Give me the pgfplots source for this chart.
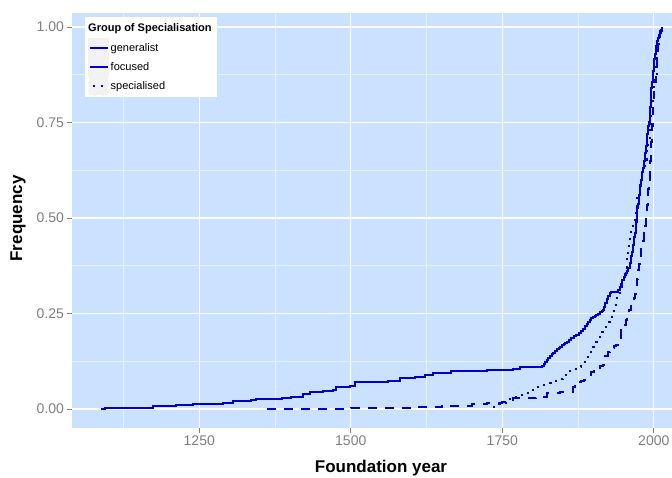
\documentclass[border=0pt]{standalone}
\usepackage{pgfplots}
\usepackage{pgfplotstable}
\pgfplotsset{compat=1.18}
\usepackage{fontspec}
\setmainfont{Liberation Sans}
\definecolor{bg}{HTML}{CAE1FF}
\definecolor{ln}{HTML}{0000CD}
\definecolor{tk}{HTML}{7F7F7F}
\definecolor{keybg}{HTML}{F2F2F2}

\pgfplotstableread{
year val
1088 0.000
1094 0.003
1174 0.007
1212 0.010
1240 0.014
1289 0.017
1306 0.020
1336 0.023
1344 0.025
1361 0.027
1386 0.030
1402 0.032
1421 0.038
1432 0.045
1454 0.047
1471 0.051
1476 0.057
1498 0.060
1507 0.070
1562 0.073
1581 0.080
1606 0.085
1622 0.088
1636 0.094
1666 0.100
1724 0.103
1768 0.105
1780 0.109
1815 0.113
1818 0.118
1821 0.124
1823 0.128
1826 0.134
1829 0.140
1832 0.144
1834 0.146
1837 0.151
1840 0.156
1843 0.160
1845 0.163
1848 0.167
1851 0.171
1854 0.174
1856 0.176
1860 0.181
1864 0.186
1868 0.190
1872 0.194
1876 0.199
1880 0.204
1883 0.209
1886 0.216
1889 0.222
1892 0.229
1894 0.233
1897 0.238
1900 0.241
1903 0.244
1905 0.246
1908 0.249
1911 0.253
1914 0.256
1916 0.259
1918 0.268
1920 0.278
1922 0.288
1924 0.296
1927 0.303
1930 0.305
1934 0.306
1938 0.307
1941 0.312
1944 0.320
1946 0.328
1948 0.337
1950 0.345
1952 0.350
1954 0.355
1956 0.362
1958 0.370
1960 0.381
1962 0.392
1963 0.400
1964 0.410
1965 0.420
1966 0.430
1967 0.440
1968 0.450
1969 0.460
1970 0.475
1971 0.490
1972 0.510
1973 0.525
1974 0.537
1975 0.550
1976 0.560
1977 0.570
1978 0.585
1979 0.600
1980 0.610
1981 0.620
1982 0.630
1983 0.640
1984 0.650
1985 0.660
1986 0.670
1987 0.688
1988 0.705
1989 0.720
1990 0.730
1991 0.740
1992 0.750
1993 0.770
1994 0.790
1995 0.815
1996 0.840
1997 0.855
1998 0.870
1999 0.885
2000 0.900
2001 0.915
2002 0.930
2003 0.940
2004 0.950
2005 0.957
2006 0.963
2007 0.970
2008 0.975
2009 0.980
2010 0.985
2011 0.989
2012 0.993
2013 0.997
2014 1.000
}\generalist

\pgfplotstableread{
year val
1361 0.000
1500 0.002
1600 0.005
1650 0.008
1700 0.013
1724 0.016
1750 0.019
1768 0.028
1806 0.032
1823 0.041
1845 0.045
1867 0.058
1870 0.062
1875 0.071
1880 0.074
1885 0.077
1889 0.080
1893 0.088
1897 0.098
1901 0.103
1906 0.108
1911 0.112
1916 0.115
1918 0.128
1920 0.140
1924 0.148
1927 0.154
1931 0.159
1935 0.164
1938 0.168
1941 0.174
1944 0.181
1946 0.207
1949 0.213
1952 0.220
1954 0.232
1955 0.242
1957 0.250
1959 0.258
1962 0.270
1964 0.278
1967 0.290
1969 0.300
1970 0.315
1972 0.340
1974 0.365
1975 0.380
1977 0.395
1979 0.420
1981 0.440
1983 0.460
1985 0.480
1987 0.500
1988 0.520
1989 0.535
1990 0.550
1991 0.575
1992 0.600
1993 0.625
1994 0.650
1995 0.675
1996 0.700
1997 0.740
1998 0.780
1999 0.800
2000 0.820
2001 0.840
2002 0.855
2003 0.870
2004 0.895
2005 0.920
2006 0.940
2007 0.957
2008 0.965
2009 0.973
2010 0.980
2011 0.985
2012 0.990
2013 0.995
2014 1.000
}\focused

\pgfplotstableread{
year val
1735 0.005
1745 0.012
1756 0.020
1762 0.027
1768 0.032
1776 0.036
1785 0.041
1795 0.050
1806 0.058
1817 0.062
1828 0.067
1839 0.078
1850 0.089
1861 0.100
1872 0.111
1880 0.124
1889 0.137
1894 0.150
1900 0.163
1905 0.176
1911 0.189
1915 0.202
1919 0.215
1923 0.228
1927 0.242
1931 0.257
1935 0.272
1940 0.290
1944 0.307
1947 0.322
1949 0.338
1952 0.370
1955 0.400
1957 0.418
1959 0.435
1961 0.452
1963 0.469
1966 0.495
1970 0.530
1973 0.556
1977 0.590
1981 0.620
1985 0.652
1988 0.678
1991 0.704
1993 0.735
1996 0.780
1998 0.815
2000 0.850
2002 0.878
2005 0.920
2007 0.940
2009 0.960
2011 0.980
2013 1.000
}\specialised

\begin{document}
\begin{tikzpicture}
\path[use as bounding box] (0pt,0pt) rectangle (672pt,477pt);
\begin{axis}[
  at={(72pt,49pt)}, anchor=south west,
  scale only axis, width=600pt, height=415pt,
  xmin=1040, xmax=2030, ymin=-0.0497, ymax=1.0366,
  axis background/.style={fill=bg},
  axis line style={draw=none},
  xtick={1250,1500,1750,2000},
  ytick={0,0.25,0.5,0.75,1},
  minor xtick={1125,1375,1625,1875},
  minor ytick={0.125,0.375,0.625,0.875},
  xtick pos=bottom, ytick pos=left,
  tick align=outside,
  major tick length=4.5pt, minor tick length=0pt,
  tick style={tk, line width=0.8pt},
  grid=both,
  major grid style={white, line width=1.1pt},
  minor grid style={white!55!bg, line width=0.6pt},
  /pgf/number format/assume math mode=true,
  ticklabel style={font=\fontsize{14}{14}\selectfont, text=tk},
  xticklabel style={/pgf/number format/1000 sep={}},
  yticklabel style={/pgf/number format/fixed, /pgf/number format/fixed zerofill, /pgf/number format/precision=2},
  xlabel={Foundation year},
  ylabel={Frequency},
  xlabel style={at={(rel axis cs:0.515,-0.0964)}, anchor=center, font=\bfseries\fontsize{17}{17}\selectfont},
  ylabel style={at={(rel axis cs:-0.09,0.505)}, anchor=center, font=\bfseries\fontsize{17}{17}\selectfont},
  legend style={at={(rel axis cs:0.0267,0.9398)}, anchor=north west, draw=none, fill=none,
    font=\fontsize{11}{11}\selectfont, row sep=-1pt, inner sep=0pt,
    nodes={inner sep=1.5pt, anchor=west}},
  legend cell align=left,
  legend image code/.code={\fill[keybg] (0pt,-9pt) rectangle (19pt,9pt); \draw[#1] (0.5pt,0pt) -- (18.5pt,0pt);},
]
\fill[white] (rel axis cs:0.0217,0.7976) rectangle (rel axis cs:0.2417,0.9904);
\node[anchor=west, font=\bfseries\fontsize{11}{11}\selectfont, inner sep=0pt] at (rel axis cs:0.0267,0.9614) {Group of Specialisation};

\addplot[const plot, ln, line width=2pt, forget plot] table[x=year,y=val] {\generalist};
\addplot[const plot, ln, line width=2pt, dash pattern=on 9pt off 8pt, forget plot] table[x=year,y=val] {\focused};
\addplot[const plot, ln, line width=2pt, dash pattern=on 2pt off 6pt, forget plot] table[x=year,y=val] {\specialised};

\addlegendimage{ln, line width=2pt}
\addlegendentry{generalist}
\addlegendimage{ln, line width=2pt}
\addlegendentry{focused}
\addlegendimage{ln, line width=2pt, dash pattern=on 2pt off 6pt, dash phase=-3pt}
\addlegendentry{specialised}
\end{axis}
\end{tikzpicture}
\end{document}
